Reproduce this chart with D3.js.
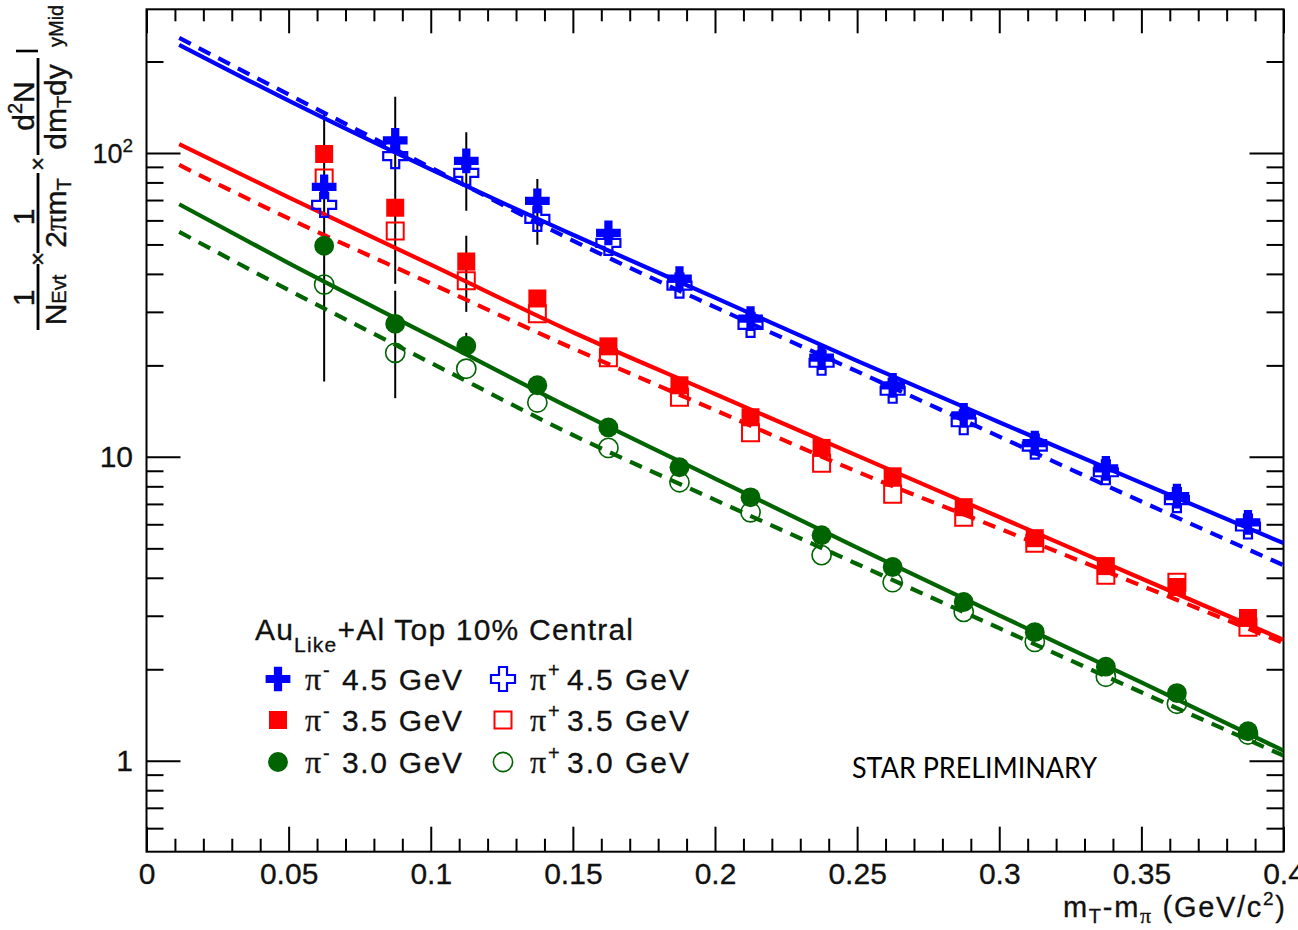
<!DOCTYPE html>
<html><head><meta charset="utf-8">
<script src="https://cdn.jsdelivr.net/npm/d3@7"></script>
<style>
html,body{margin:0;padding:0;background:#fff;}
svg{display:block;}
</style></head>
<body>
<svg id="chart" width="1298" height="930"></svg>
<script>
// m_T - m_pi bin centres (GeV/c^2)
const mtBins = [0.0625,0.0875,0.1125,0.1375,0.1625,0.1875,0.2125,0.2375,0.2625,0.2875,0.3125,0.3375,0.3625,0.3875];

// Invariant yields at mid-rapidity, Au+Al top 10% central
const piMinus45 = [77.4,110,94.2,69.6,54.6,38.6,28.5,21.2,17.2,13.7,11.1,9.17,7.42,6.09];
const piPlus45  = [67.5,97.7,86,60.7,50.6,36.6,27.2,20.4,16.5,13.0,10.8,8.9,7.2,5.9];
const piMinus35 = [99.3,66,43.9,33.2,23.1,17.2,13.5,10.7,8.63,6.83,5.40,4.37,3.73,2.95];
const piPlus35  = [82.8,55.4,38.0,29.6,21.2,15.7,12.0,9.52,7.53,6.33,5.20,4.08,3.87,2.75];
const piMinus30 = [49.5,27.4,23.2,17.2,12.5,9.24,7.36,5.52,4.34,3.33,2.65,2.04,1.67,1.25];
const piPlus30  = [36.9,22.0,19.5,15.1,10.7,8.25,6.57,4.75,3.87,3.09,2.46,1.89,1.54,1.22];

// Error bars that stick out of the markers (low / high edge)
const errX    = [0.0625,0.0875,0.0875,0.1125,0.1125,0.1125,0.1375];
const errLow  = [17.7,37.1,15.6,64.5,30.0,22.5,49.9];
const errHigh = [137,153,35.2,117,53.4,25.6,82.1];

// Fit curves (solid: pi-, dashed: pi+)
const fitX       = [0.0115,0.05,0.1,0.15,0.2,0.25,0.3,0.35,0.4];
const fitMinus45 = [227,148.6,88.3,53.8,33.4,20.7,13.0,8.21,5.20];
const fitPlus45  = [239,155.7,89.5,51.5,31.1,19.1,11.66,7.13,4.40];
const fitMinus35 = [107,71.4,42.9,25.7,16.1,10.09,6.34,3.98,2.50];
const fitPlus35  = [91.3,60.9,37.2,22.75,14.25,8.94,5.81,3.77,2.44];
const fitMinus30 = [67.8,43.4,24.97,14.35,8.48,5.03,3.01,1.81,1.08];
const fitPlus30  = [55.0,35.4,20.4,11.8,7.22,4.44,2.73,1.68,1.04];

// Axis ticks
const xTicks = [0,0.05,0.1,0.15,0.2,0.25,0.3,0.35,0.4];
const xTickLabels = ["0","0.05","0.1","0.15","0.2","0.25","0.3","0.35","0.4"];
const yTicks = [1,10,100];
const yTickLabels = ["1","10","10^2"];

// Legend text
const legendTitle = ["Au","Like","+Al Top 10% Central"];
const energyLabels = ["4.5 GeV","3.5 GeV","3.0 GeV"];

const sans = "'Liberation Sans', Arial, Helvetica, sans-serif";
const serif = "'Liberation Serif', 'Times New Roman', serif";
const BLUE = "#0000ff", RED = "#ff0000", GREEN = "#006400";
const INK = "#111";

const svg = d3.select("#chart");
const L = 146.5, R = 1283.5, T = 9.3, B = 851.7;
const x = d3.scaleLinear().domain([0, 0.4]).range([L, R]);
const y = d3.scaleLog().domain([0.502, 297]).range([B, T]);

svg.append("rect").attr("width",1298).attr("height",930).attr("fill","#fff");

// ---------- axes ----------
const xMinor = d3.range(1, 40).filter(i => i % 5 !== 0).map(i => i / 100);
const yMinor = [];
[0.1, 1, 10, 100].forEach(p => { for (let k = 2; k <= 9; k++) { const v = k * p; if (v > 0.502 && v < 297) yMinor.push(v); } });

function styleAxis(g) {
  g.select(".domain").remove();
  g.selectAll(".tick line").attr("stroke", "#000").attr("stroke-width", 2);
  g.attr("font-family", sans).attr("font-size", 30).attr("fill", INK);
  g.selectAll(".tick text").attr("fill", INK).attr("stroke", INK).attr("stroke-width", 0.3);
}

svg.append("g").attr("transform", `translate(0,${B})`)
  .call(d3.axisBottom(x).tickValues(xTicks).tickSize(-25).tickSizeOuter(0).tickPadding(11)
    .tickFormat((d, i) => xTickLabels[i])).call(styleAxis);
svg.append("g").attr("transform", `translate(0,${B})`)
  .call(d3.axisBottom(x).tickValues(xMinor).tickSize(-13).tickSizeOuter(0).tickFormat("")).call(styleAxis);
svg.append("g").attr("transform", `translate(0,${T})`)
  .call(d3.axisTop(x).tickValues(xTicks).tickSize(-24).tickSizeOuter(0).tickFormat("")).call(styleAxis);
svg.append("g").attr("transform", `translate(0,${T})`)
  .call(d3.axisTop(x).tickValues(xMinor).tickSize(-12).tickSizeOuter(0).tickFormat("")).call(styleAxis);

const yAxisG = svg.append("g").attr("transform", `translate(${L},0)`)
  .call(d3.axisLeft(y).tickValues(yTicks).tickSize(-34).tickSizeOuter(0).tickPadding(13.5)
    .tickFormat((d, i) => yTickLabels[i])).call(styleAxis);
yAxisG.selectAll(".tick text").each(function (d, i) {
  const lab = yTickLabels[i];
  if (lab.includes("^")) {
    const [base, exp] = lab.split("^");
    const t = d3.select(this).text("");
    t.append("tspan").attr("font-size", 27).text(base);
    t.append("tspan").attr("font-size", 19).attr("dy", -11).text(exp);
  }
});
svg.append("g").attr("transform", `translate(${L},0)`)
  .call(d3.axisLeft(y).tickValues(yMinor).tickSize(-17).tickSizeOuter(0).tickFormat("")).call(styleAxis);
svg.append("g").attr("transform", `translate(${R},0)`)
  .call(d3.axisRight(y).tickValues(yTicks).tickSize(-34).tickSizeOuter(0).tickFormat("")).call(styleAxis);
svg.append("g").attr("transform", `translate(${R},0)`)
  .call(d3.axisRight(y).tickValues(yMinor).tickSize(-17).tickSizeOuter(0).tickFormat("")).call(styleAxis);

svg.append("rect").attr("x", L).attr("y", T).attr("width", R - L).attr("height", B - T)
  .attr("fill", "none").attr("stroke", "#000").attr("stroke-width", 2);

// ---------- plot content ----------
svg.append("clipPath").attr("id", "plotClip").append("rect")
  .attr("x", L).attr("y", T).attr("width", R - L).attr("height", B - T);
const plot = svg.append("g").attr("clip-path", "url(#plotClip)");

// error bars
plot.append("g").selectAll("line").data(errX).join("line")
  .attr("x1", d => x(d)).attr("x2", d => x(d))
  .attr("y1", (d, i) => y(errHigh[i])).attr("y2", (d, i) => y(errLow[i]))
  .attr("stroke", "#000").attr("stroke-width", 2);

// fit curves
const fits = [
  { vals: fitMinus45, color: BLUE, dash: null },
  { vals: fitPlus45,  color: BLUE, dash: "13,9" },
  { vals: fitMinus35, color: RED, dash: null },
  { vals: fitPlus35,  color: RED, dash: "13,9" },
  { vals: fitMinus30, color: GREEN, dash: null },
  { vals: fitPlus30,  color: GREEN, dash: "13,9" }
];
const lineGen = d3.line().x(d => x(d[0])).y(d => y(d[1])).curve(d3.curveMonotoneX);
fits.forEach(f => {
  plot.append("path").attr("d", lineGen(fitX.map((v, i) => [v, f.vals[i]])))
    .attr("fill", "none").attr("stroke", f.color).attr("stroke-width", 4.2)
    .attr("stroke-dasharray", f.dash);
});

// markers
const series = [
  { vals: piPlus45,  color: BLUE,  type: d3.symbolCross,  size: 320, filled: false, sw: 2.2 },
  { vals: piPlus35,  color: RED,   type: d3.symbolSquare, size: 289, filled: false, sw: 2 },
  { vals: piPlus30,  color: GREEN, type: d3.symbolCircle, size: 290, filled: false, sw: 1.6 },
  { vals: piMinus45, color: BLUE,  type: d3.symbolCross,  size: 340, filled: true },
  { vals: piMinus35, color: RED,   type: d3.symbolSquare, size: 324, filled: true },
  { vals: piMinus30, color: GREEN, type: d3.symbolCircle, size: 310, filled: true }
];
function drawMarker(g, s, cx, cy) {
  g.append("path").attr("d", d3.symbol().type(s.type).size(s.size)())
    .attr("transform", `translate(${cx},${cy})`)
    .attr("fill", s.filled ? s.color : "none")
    .attr("stroke", s.filled ? "none" : s.color)
    .attr("stroke-width", s.filled ? 0 : s.sw);
}
series.forEach(s => {
  const g = plot.append("g");
  mtBins.forEach((m, i) => drawMarker(g, s, x(m), y(s.vals[i])));
});

// ---------- legend ----------
const leg = svg.append("g").attr("font-family", sans).attr("fill", INK)
  .attr("stroke", INK).attr("stroke-width", 0.3);
const head = leg.append("text").attr("x", 255).attr("y", 640).attr("font-size", 30)
  .attr("textLength", 378).attr("lengthAdjust", "spacing");
head.append("tspan").text(legendTitle[0]);
head.append("tspan").attr("font-size", 21).attr("dy", 12).text(legendTitle[1]);
head.append("tspan").attr("dy", -12).text(legendTitle[2]);

const rowY = [679, 720, 762];
const colX = [278, 503];
const charges = ["-", "+"];
energyLabels.forEach((lab, r) => {
  [0, 1].forEach(c => {
    const s = c === 0 ? series[3 + r] : series[r];
    drawMarker(leg, s, colX[c], rowY[r]);
    const tx = colX[c] + 27;
    const base = rowY[r] + 11;
    leg.append("text").attr("x", tx).attr("y", base).attr("font-family", serif)
      .attr("font-size", 32).text("π");
    leg.append("text").attr("x", tx + 18).attr("y", base - 13).attr("font-size", 20)
      .text(charges[c]);
    leg.append("text").attr("x", tx + 37).attr("y", base).attr("font-size", 30)
      .attr("textLength", c === 0 ? 120 : 122).attr("lengthAdjust", "spacing").text(lab);
  });
});

// ---------- axis titles ----------
const xt = svg.append("text").attr("x", 1285).attr("y", 917).attr("text-anchor", "end")
  .attr("font-family", sans).attr("font-size", 29).attr("fill", INK)
  .attr("stroke", INK).attr("stroke-width", 0.3)
  .attr("textLength", 222).attr("lengthAdjust", "spacing");
xt.append("tspan").text("m");
xt.append("tspan").attr("font-size", 20).attr("dy", 6).text("T");
xt.append("tspan").attr("dy", -6).text("-m");
xt.append("tspan").attr("font-size", 22).attr("font-family", serif).attr("dy", 6).text("π");
xt.append("tspan").attr("dy", -6).text(" (GeV/c");
xt.append("tspan").attr("font-size", 19).attr("dy", -12).text("2");
xt.append("tspan").attr("dy", 12).text(")");

const yt = svg.append("g").attr("transform", "translate(38,330) rotate(-90)")
  .attr("font-family", sans).attr("font-size", 30).attr("fill", INK)
  .attr("stroke", INK).attr("stroke-width", 0.4);
function fracBar(a, b) {
  yt.append("line").attr("x1", a).attr("x2", b).attr("y1", 0).attr("y2", 0)
    .attr("stroke", "#000").attr("stroke-width", 2.8);
}
fracBar(0, 66); fracBar(77, 157); fracBar(175, 272);
yt.append("text").attr("x", 32).attr("y", -4).attr("text-anchor", "middle").text("1");
const n1 = yt.append("text").attr("x", 30).attr("y", 28).attr("text-anchor", "middle");
n1.append("tspan").text("N");
n1.append("tspan").attr("font-size", 20).text("Evt");
yt.append("text").attr("x", 71).attr("y", 8).attr("text-anchor", "middle").attr("font-size", 24).text("×");
yt.append("text").attr("x", 113).attr("y", -4).attr("text-anchor", "middle").text("1");
const n2 = yt.append("text").attr("x", 117).attr("y", 28).attr("text-anchor", "middle");
n2.append("tspan").text("2");
n2.append("tspan").attr("font-family", serif).attr("font-size", 31).text("π");
n2.append("tspan").text("m");
n2.append("tspan").attr("font-size", 20).attr("dy", 5).text("T");
yt.append("text").attr("x", 166).attr("y", 8).attr("text-anchor", "middle").attr("font-size", 24).text("×");
const n3 = yt.append("text").attr("x", 224).attr("y", -4).attr("text-anchor", "middle");
n3.append("tspan").text("d");
n3.append("tspan").attr("font-size", 20).attr("dy", -12).text("2");
n3.append("tspan").attr("dy", 12).text("N");
const n4 = yt.append("text").attr("x", 223).attr("y", 28).attr("text-anchor", "middle");
n4.append("tspan").text("dm");
n4.append("tspan").attr("font-size", 20).attr("dy", 5).text("T");
n4.append("tspan").attr("dy", -5).text("dy");
yt.append("line").attr("x1", 279).attr("x2", 279).attr("y1", -22).attr("y2", 0)
  .attr("stroke", "#000").attr("stroke-width", 2.6);
yt.append("text").attr("x", 283).attr("y", 25).attr("font-size", 20).text("yMid");

// ---------- watermark ----------
svg.append("text").attr("x", 852).attr("y", 778).attr("font-family", "Lato, 'Open Sans', sans-serif")
  .attr("font-size", 28).attr("fill", "#000").attr("textLength", 245).attr("lengthAdjust", "spacingAndGlyphs")
  .text("STAR PRELIMINARY");
</script>
</body></html>
